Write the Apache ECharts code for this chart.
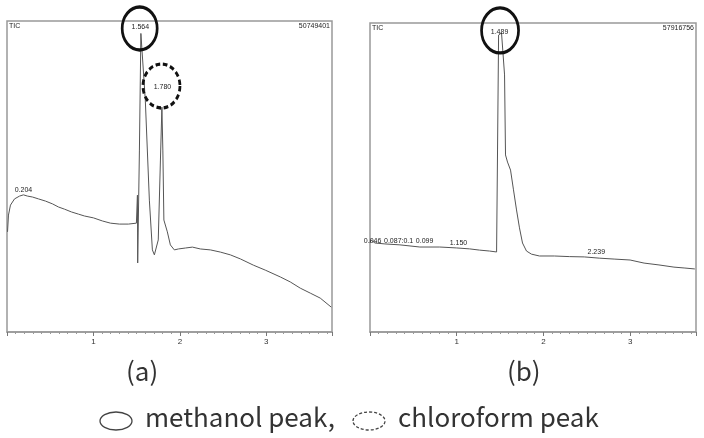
<!DOCTYPE html>
<html>
<head>
<meta charset="utf-8">
<script src="https://cdn.jsdelivr.net/npm/echarts@6/dist/echarts.min.js"></script>
<style>
  html, body { margin: 0; padding: 0; background: #fff; }
  #chart_box { width: 704px; height: 438px; }
</style>
</head>
<body>
<div id="chart_box"></div>
<script>
// 色谱图 (a) 数据: [保留时间 min, 相对强度 %]
var timeA = [0.006, 0.017, 0.04, 0.087, 0.145, 0.19, 0.237, 0.295, 0.364, 0.445, 0.526, 0.595, 0.665, 0.746, 0.827, 0.896, 1.0, 1.104, 1.197, 1.3, 1.405, 1.497,
  1.509, 1.512, 1.532, 1.549, 1.566, 1.60, 1.647, 1.682, 1.705, 1.728, 1.75, 1.775, 1.792, 1.803, 1.815, 1.832, 1.855, 1.89, 1.936, 1.983,
  2.064, 2.145, 2.237, 2.353, 2.468, 2.584, 2.7, 2.85, 2.988, 3.162, 3.277, 3.393, 3.509, 3.624, 3.751];
var valueA = [32.2, 37.6, 40.8, 42.8, 43.7, 44.1, 43.7, 43.4, 42.8, 42.1, 41.2, 40.2, 39.5, 38.6, 37.9, 37.3, 36.7, 35.7, 35.0, 34.7, 34.7, 35.0,
  44.0, 22.2, 58.5, 96.0, 96.0, 74.6, 42.4, 26.4, 24.8, 25.1, 29.6, 55.3, 72.3, 58.5, 36.0, 35.4, 32.2, 28.0, 26.4, 26.7,
  27.0, 27.3, 26.7, 26.4, 25.7, 24.8, 23.5, 21.5, 19.9, 17.7, 16.1, 14.1, 12.5, 10.9, 8.0];

// 色谱图 (b) 数据
var timeB = [0, 0.011, 0.057, 0.172, 0.345, 0.575, 0.805, 1.0, 1.149, 1.264, 1.379, 1.46, 1.471, 1.483, 1.517, 1.552, 1.563, 1.586, 1.621, 1.655,
  1.69, 1.724, 1.759, 1.805, 1.862, 1.954, 2.126, 2.299, 2.471, 2.644, 2.816, 3.0, 3.161, 3.333, 3.506, 3.632, 3.747];
var valueB = [28.8, 29.8, 28.8, 28.5, 28.2, 27.5, 27.5, 27.2, 26.9, 26.5, 26.2, 25.9, 58.9, 96.1, 96.8, 83.2, 57.3, 55.0, 52.4, 46.0,
  39.5, 33.7, 28.8, 26.2, 25.2, 24.6, 24.6, 24.4, 24.3, 23.9, 23.6, 23.3, 22.3, 21.7, 21.0, 20.7, 20.4];

// 峰标注 [时间, 位置, 文字]
var labelsA = [[0.19, 45.7, '0.204'], [1.543, 98.1, '1.564'], [1.798, 78.8, '1.780']];
var labelsB = [[1.494, 97.1, '1.489'], [0.03, 29.4, '0.046'], [0.33, 29.4, '0.087:0.1'], [0.63, 29.4, '0.099'], [1.02, 28.8, '1.150'], [2.61, 25.9, '2.239']];
var xTicks = ['1', '2', '3'];
var topA = ['TIC', '50749401'];
var topB = ['TIC', '57916756'];

var myChart1 = echarts.init(document.getElementById('chart_box'));

function pairs(t, v) {
  var out = [];
  for (var i = 0; i < t.length; i++) out.push([t[i], v[i]]);
  return out;
}

function labelPoints(list) {
  return list.map(function (d) {
    return {
      coord: [d[0], d[1]],
      symbol: 'rect', symbolSize: 0,
      label: { show: true, formatter: d[2], position: 'inside', fontSize: 7, color: '#222', fontFamily: 'Liberation Sans' }
    };
  });
}

function circle(t, y, w, h, dashed) {
  return {
    coord: [t, y], symbol: 'circle', symbolSize: [w, h],
    itemStyle: { color: 'rgba(0,0,0,0)', borderColor: '#111', borderWidth: 3, borderType: dashed ? [5, 3] : 'solid' },
    label: { show: false }
  };
}

function xAxisOf(idx) {
  return {
    type: 'value', gridIndex: idx, min: 0, max: 3.76, interval: 1,
    axisLine: { show: true, lineStyle: { color: '#999', width: 1.5 } },
    axisTick: { show: true, length: 4, lineStyle: { color: '#777' } },
    minorTick: { show: true, splitNumber: 10, length: 2, lineStyle: { color: '#999' } },
    splitLine: { show: false },
    axisLabel: {
      fontSize: 8, color: '#333', margin: 6,
      formatter: function (v) { return v >= 1 && v <= 3 ? xTicks[Math.round(v) - 1] : ''; }
    }
  };
}

function yAxisOf(idx) {
  return { type: 'value', gridIndex: idx, min: 0, max: 100, show: false };
}

var option = {
  animation: false,
  grid: [
    { left: 7, top: 21, width: 325, height: 311, show: true, borderColor: '#999', borderWidth: 1.5 },
    { left: 370, top: 23, width: 326, height: 309, show: true, borderColor: '#999', borderWidth: 1.5 }
  ],
  xAxis: [xAxisOf(0), xAxisOf(1)],
  yAxis: [yAxisOf(0), yAxisOf(1)],
  series: [
    {
      type: 'line', xAxisIndex: 0, yAxisIndex: 0, data: pairs(timeA, valueA),
      showSymbol: false, lineStyle: { color: '#555', width: 1 },
      markPoint: { silent: true, data: labelPoints(labelsA).concat([circle(1.535, 97.6, 35, 43, false), circle(1.787, 79.1, 37, 44, true)]) }
    },
    {
      type: 'line', xAxisIndex: 1, yAxisIndex: 1, data: pairs(timeB, valueB),
      showSymbol: false, lineStyle: { color: '#555', width: 1 },
      markPoint: { silent: true, data: labelPoints(labelsB).concat([circle(1.5, 97.6, 37, 45, false)]) }
    }
  ],
  graphic: [
    { type: 'text', left: 9, top: 23, style: { text: topA[0], fontSize: 7, fill: '#222', fontFamily: 'Liberation Sans' } },
    { type: 'text', right: 374, top: 23, style: { text: topA[1], fontSize: 7, fill: '#222', fontFamily: 'Liberation Sans' } },
    { type: 'text', left: 372, top: 25, style: { text: topB[0], fontSize: 7, fill: '#222', fontFamily: 'Liberation Sans' } },
    { type: 'text', right: 10, top: 25, style: { text: topB[1], fontSize: 7, fill: '#222', fontFamily: 'Liberation Sans' } },
    { type: 'text', left: 126, top: 358, style: { text: '(a)', fontSize: 26, fill: '#333', fontFamily: 'Noto Sans CJK KR' } },
    { type: 'text', left: 507, top: 358, style: { text: '(b)', fontSize: 26, fill: '#333', fontFamily: 'Noto Sans CJK KR' } },
    { type: 'ellipse', shape: { cx: 116, cy: 421, rx: 16, ry: 9 }, style: { fill: 'none', stroke: '#444', lineWidth: 1.3 } },
    { type: 'text', left: 145, top: 404, style: { text: 'methanol peak,', fontSize: 26, fill: '#333', fontFamily: 'Noto Sans CJK KR' } },
    { type: 'ellipse', shape: { cx: 369, cy: 421, rx: 16, ry: 9 }, style: { fill: 'none', stroke: '#444', lineWidth: 1.3, lineDash: [3, 2] } },
    { type: 'text', left: 398, top: 404, style: { text: 'chloroform peak', fontSize: 26, fill: '#333', fontFamily: 'Noto Sans CJK KR' } }
  ]
};
myChart1.setOption(option);
</script>
</body>
</html>
